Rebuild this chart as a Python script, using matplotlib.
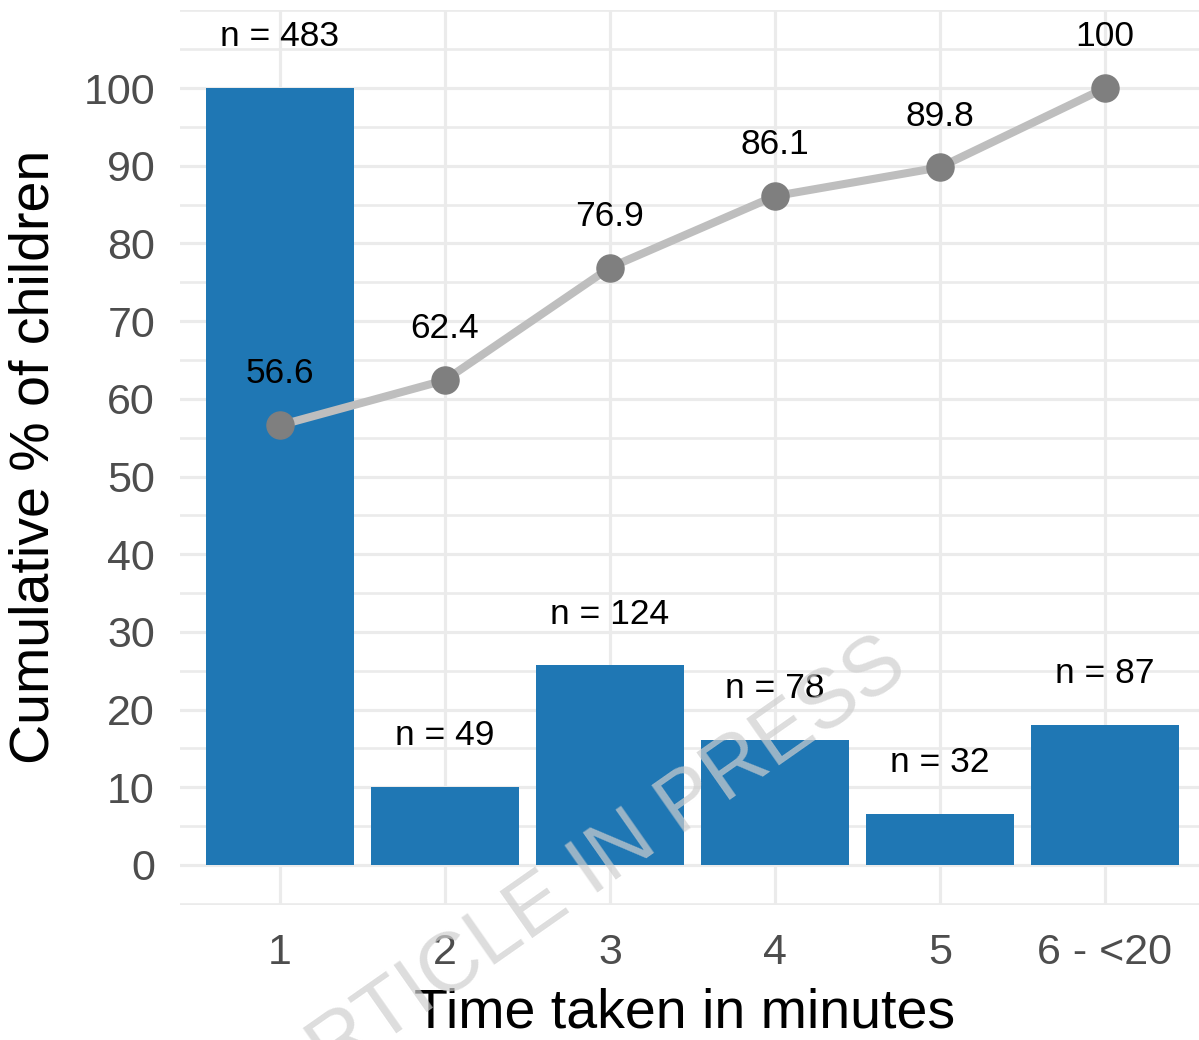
import matplotlib.pyplot as plt

# data
categories = ["1", "2", "3", "4", "5", "6 - <20"]
counts = [483, 49, 124, 78, 32, 87]
bar_pct = [100, 10.1, 25.7, 16.1, 6.6, 18.0]   # bar height, % of largest group
cum_pct = [56.6, 62.4, 76.9, 86.1, 89.8, 100]

plt.rcParams["font.family"] = ["Liberation Sans", "DejaVu Sans"]

W, H = 1199, 1040
fig = plt.figure(figsize=(W / 100, H / 100), dpi=100)
ax = fig.add_axes([180 / W, (H - 905) / H, (W - 180) / W, 895 / H])

x = list(range(1, len(categories) + 1))

# ggplot-like minimal grid
for v in range(0, 101, 10):
    ax.axhline(v, color="#EBEBEB", lw=2.3, zorder=0)
for v in [-5, 5, 15, 25, 35, 45, 55, 65, 75, 85, 95, 105, 110]:
    ax.axhline(v, color="#EBEBEB", lw=1.9, zorder=0)
for xi in x:
    ax.axvline(xi, color="#EBEBEB", lw=2.3, zorder=0)

ax.bar(x, bar_pct, width=0.9, color="#1F77B4", zorder=2)
ax.plot(x, cum_pct, color="#BEBEBE", lw=5.8, zorder=3, solid_capstyle="round")
ax.plot(x, cum_pct, "o", color="#7F7F7F", ms=19.5, zorder=4)

off = 6.6
for xi, h, n in zip(x, bar_pct, counts):
    ax.text(xi, h + off, f"n = {n}", ha="center", va="center", fontsize=25.5, zorder=5)
for xi, c in zip(x, cum_pct):
    ax.text(xi, c + off, f"{c:g}", ha="center", va="center", fontsize=25.5, zorder=5)

ax.set_xlim(0.394, 6.57)
ax.set_ylim(-5.15, 110.05)
ax.set_yticks(range(0, 101, 10))
ax.set_xticks(x)
ax.set_xticklabels(categories)
ax.tick_params(axis="both", length=0, labelsize=31, labelcolor="#4D4D4D")
ax.tick_params(axis="y", pad=18)
ax.tick_params(axis="x", pad=20)
for s in ax.spines.values():
    s.set_visible(False)

fig.text(35 / W, 1 - 457 / H, "Cumulative % of children", rotation=90,
         ha="center", va="center", fontsize=40)
fig.text(685 / W, 1 - 1013 / H, "Time taken in minutes", ha="center", va="center",
         fontsize=40)

# watermark (runs off the bottom edge, as in the source)
fig.text(585 / W, 1 - 874 / H, "ARTICLE IN PRESS", rotation=35, ha="center", va="center",
         fontsize=60, color="#CFCFCF", alpha=0.7, zorder=10)

fig.savefig("out.png", dpi=100)
